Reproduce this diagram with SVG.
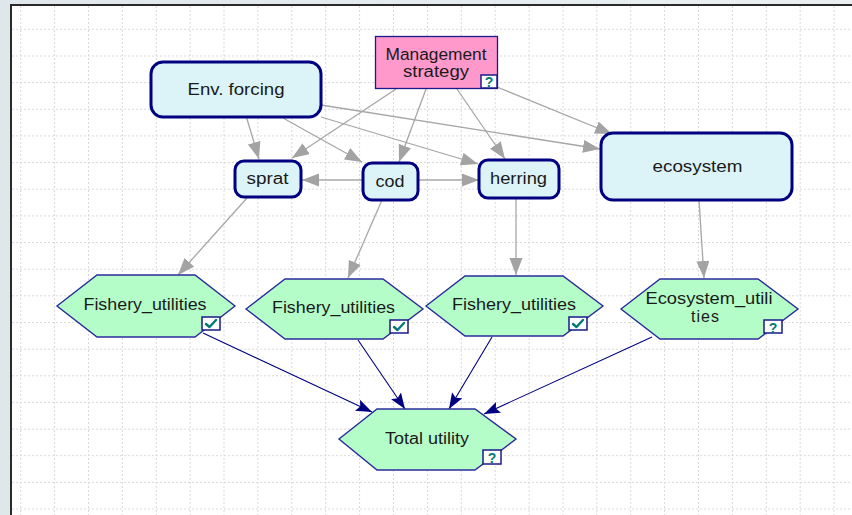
<svg xmlns="http://www.w3.org/2000/svg" width="852" height="515" viewBox="0 0 852 515">
<defs>
<linearGradient id="bg" x1="0" y1="0" x2="1" y2="0">
<stop offset="0" stop-color="#dfe7eb"/><stop offset="1" stop-color="#eaf0f2"/>
</linearGradient>
<marker id="ga" markerUnits="userSpaceOnUse" markerWidth="18" markerHeight="14" refX="17" refY="6.5" orient="auto">
<path d="M0,0 L17,6.5 L0,13 z" fill="#a3a3a3"/>
</marker>
<marker id="na" markerUnits="userSpaceOnUse" markerWidth="17" markerHeight="13" refX="16" refY="6" orient="auto">
<path d="M0,0 L16,6 L0,12 L3,6 z" fill="#000080"/>
</marker>
</defs>
<style>
.grid{fill:none;stroke:#d9d9d9;stroke-width:1;stroke-dasharray:2 2}
.rr{fill:#dcf4f7;stroke:#000080;stroke-width:3}
.hex{fill:#b4fdc8;stroke:#2b2b9a;stroke-width:1.4}
.box{fill:#ffffff;stroke:#1a1a8a;stroke-width:1.5}
.chk{fill:none;stroke:#007a7a;stroke-width:2.4;stroke-linecap:round;stroke-linejoin:round}
.q{font-family:"Liberation Sans",Arial,sans-serif;font-size:14px;font-weight:bold;fill:#007a7a;text-anchor:middle}
.t{font-family:"Liberation Sans",Arial,sans-serif;font-size:16px;fill:#1a1a1a;text-anchor:middle}
.g{fill:none;stroke:#a6a6a6;stroke-width:1.3;marker-end:url(#ga)}
.n{fill:none;stroke:#000080;stroke-width:1.1;marker-end:url(#na)}
</style>
<rect x="0" y="0" width="852" height="515" fill="url(#bg)"/>
<rect x="11" y="5" width="841" height="510" fill="#ffffff"/>
<path class="grid" d="M20.7,6V515M54.6,6V515M88.5,6V515M122.4,6V515M156.3,6V515M190.2,6V515M224,6V515M257.9,6V515M291.8,6V515M325.7,6V515M359.6,6V515M393.5,6V515M427.4,6V515M461.3,6V515M495.2,6V515M529.1,6V515M563,6V515M596.8,6V515M630.7,6V515M664.6,6V515M698.5,6V515M732.4,6V515M766.3,6V515M800.2,6V515M834.1,6V515M12,29.3H852M12,56H852M12,82.6H852M12,109.3H852M12,135.9H852M12,162.6H852M12,189.2H852M12,215.9H852M12,242.5H852M12,269.2H852M12,295.8H852M12,322.5H852M12,349.1H852M12,375.8H852M12,402.4H852M12,429.1H852M12,455.7H852M12,482.4H852M12,509H852"/>
<path d="M11,515V5H852" fill="none" stroke="#2a2a2a" stroke-width="2"/>

<g id="connectors">
<path class="g" d="M246.7,118 L259,159"/>
<path class="g" d="M283,118 L362,162"/>
<path class="g" d="M321,117 L478,164"/>
<path class="g" d="M321,105 L600,149"/>
<path class="g" d="M396,89 L292,158"/>
<path class="g" d="M426,89 L399,162"/>
<path class="g" d="M457,89 L505,159"/>
<path class="g" d="M497,87 L612,134"/>
<path class="g" d="M363,180 L302,180"/>
<path class="g" d="M418,180 L479,180"/>
<path class="g" d="M247,198 L178,275"/>
<path class="g" d="M382,200 L348,278"/>
<path class="g" d="M516,198 L516,275"/>
<path class="g" d="M699,200 L704,278"/>
<path class="n" d="M203,333 L372,412"/>
<path class="n" d="M358,340 L405,409"/>
<path class="n" d="M492,337 L449,409"/>
<path class="n" d="M652,337 L484,414"/>
</g>

<g id="management">
<rect x="375.5" y="36.5" width="122" height="52" fill="#ff99cc" stroke="#1a1a8a" stroke-width="1.3"/>
<text class="t" x="436" y="60" textLength="101" lengthAdjust="spacingAndGlyphs">Management</text>
<text class="t" x="436" y="77" textLength="66" lengthAdjust="spacingAndGlyphs">strategy</text>
<rect class="box" x="481" y="75" width="16" height="13"/>
<text class="q" x="489" y="87">?</text>
</g>

<g id="env">
<rect class="rr" x="151" y="62" width="170" height="55" rx="12"/>
<text class="t" x="236" y="95" textLength="97" lengthAdjust="spacingAndGlyphs">Env. forcing</text>
</g>

<g id="sprat">
<rect class="rr" x="235" y="161" width="66" height="36" rx="9"/>
<text class="t" x="267.5" y="184" textLength="42" lengthAdjust="spacingAndGlyphs">sprat</text>
</g>

<g id="cod">
<rect class="rr" x="363" y="163" width="55" height="37" rx="9"/>
<text class="t" x="390" y="186.5" textLength="29" lengthAdjust="spacingAndGlyphs">cod</text>
</g>

<g id="herring">
<rect class="rr" x="479" y="160" width="80" height="38" rx="9"/>
<text class="t" x="518.5" y="184" textLength="57" lengthAdjust="spacingAndGlyphs">herring</text>
</g>

<g id="ecosystem">
<rect class="rr" x="601" y="133" width="191" height="67" rx="12"/>
<text class="t" x="697.5" y="172" textLength="90" lengthAdjust="spacingAndGlyphs">ecosystem</text>
</g>

<g id="fishery1">
<polygon class="hex" points="57,306 97,275 195,275 235,306 195,337 97,337"/>
<text class="t" x="145" y="310" textLength="123" lengthAdjust="spacingAndGlyphs">Fishery_utilities</text>
<rect class="box" x="202" y="317" width="18" height="13"/>
<path class="chk" d="M206,324 L209.5,327 L216,320"/>
</g>

<g id="fishery2">
<polygon class="hex" points="246,309 285,279 383,279 423,309 383,339 285,339"/>
<text class="t" x="333.5" y="312.5" textLength="123" lengthAdjust="spacingAndGlyphs">Fishery_utilities</text>
<rect class="box" x="390" y="320" width="18" height="13"/>
<path class="chk" d="M394,327 L397.5,330 L404,323"/>
</g>

<g id="fishery3">
<polygon class="hex" points="426,306 465,276 563,276 603,306 563,336 465,336"/>
<text class="t" x="514" y="309.5" textLength="124" lengthAdjust="spacingAndGlyphs">Fishery_utilities</text>
<rect class="box" x="569" y="317" width="18" height="13"/>
<path class="chk" d="M573,324 L576.5,327 L583,320"/>
</g>

<g id="ecosystem_utilities">
<polygon class="hex" points="621,309 660,279 758,279 798,309 758,339 660,339"/>
<text class="t" x="709" y="303.5" textLength="127" lengthAdjust="spacingAndGlyphs">Ecosystem_utili</text>
<text class="t" x="705" y="322" textLength="28" lengthAdjust="spacing">ties</text>
<rect class="box" x="764" y="320" width="18" height="13"/>
<text class="q" x="773" y="332.5">?</text>
</g>

<g id="total">
<polygon class="hex" points="339,439 377,409 475,409 516,439 475,470 377,470"/>
<text class="t" x="427" y="444" textLength="84" lengthAdjust="spacingAndGlyphs">Total utility</text>
<rect class="box" x="483" y="450" width="18" height="14"/>
<text class="q" x="492" y="462.5">?</text>
</g>
</svg>
